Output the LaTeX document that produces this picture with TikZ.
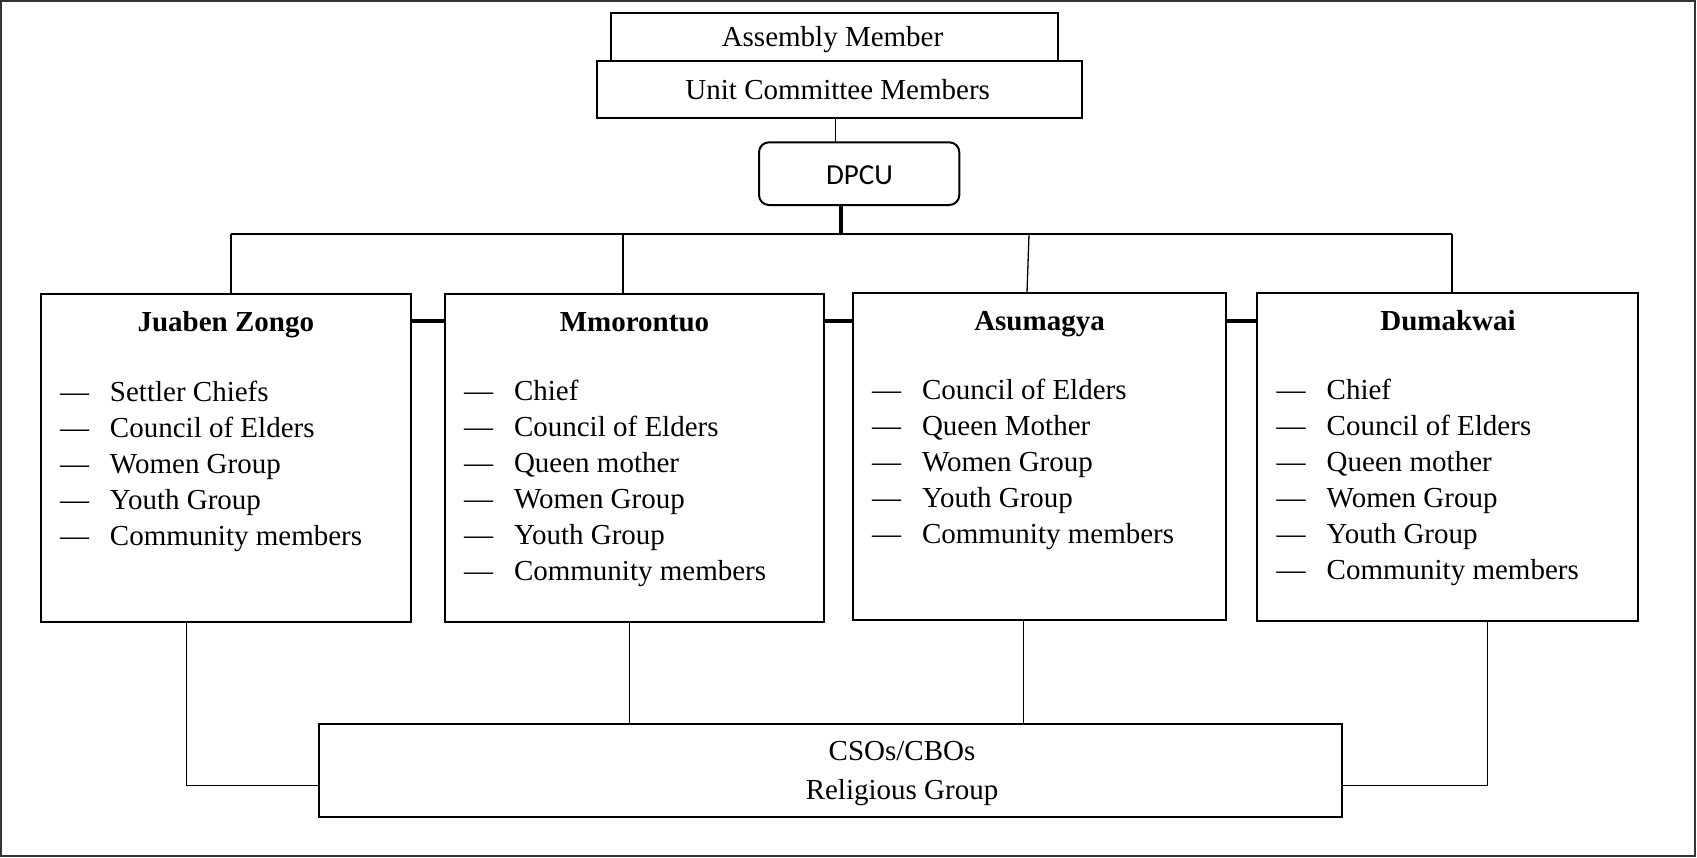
\documentclass[tikz,border=0pt]{standalone}
\usepackage{fontspec}
\setmainfont{Liberation Serif}
\newfontfamily\dpcufont{Carlito}
\usetikzlibrary{calc}
\newcommand\memberline[1]{\makebox[25pt][l]{\textemdash}#1}
\begin{document}
\begin{tikzpicture}[x=0.5pt,y=-0.5pt,
  box/.style={draw, line width=1pt, inner sep=0pt, outer sep=0pt, fill=white},
  link/.style={line width=0.65pt},
  heavylink/.style={line width=2pt},
  label/.style={inner sep=0pt, outer sep=0pt, anchor=base,
    font=\fontsize{14.5}{18}\selectfont},
  title/.style={label, font=\fontsize{14.5}{18}\selectfont\bfseries},
  members/.style={inner sep=0pt, outer sep=0pt, anchor=base west,
    font=\fontsize{14.5}{18}\selectfont}]
\useasboundingbox (0,0) rectangle (1697,857);
\draw[line width=1pt, black!80] (1,1) rectangle (1695,856);

% top of the chart
\node[box, minimum width=223.5pt, minimum height=24.15pt] (assembly) at (834.5,36.85) {};
\node[box, minimum width=242.5pt, minimum height=28.65pt] (unit) at (839.2,89.65) {};
\node[label] (assembly-t) at (832.5,46.5) {Assembly Member};
\node[label] (unit-t) at (837.7,99.3) {Unit Committee Members};
\node[box, rounded corners=5pt, minimum width=100.15pt, minimum height=31.35pt] (dpcu) at (859.15,173.65) {};
\node[label, font=\fontsize{14.5}{18}\dpcufont] (dpcu-t) at (859.5,184.3) {DPCU};

% community boxes
\node[box, minimum width=185.15pt, minimum height=163.85pt] (jz) at (225.85,457.85) {};
\node[box, minimum width=189.5pt, minimum height=163.7pt] (mm) at (634.5,458) {};
\node[box, minimum width=186.5pt, minimum height=163.8pt] (as) at (1039.2,456.5) {};
\node[box, minimum width=190.1pt, minimum height=163.6pt] (dk) at (1447.4,456.9) {};

\node[title] (jz-t) at (225.85,331) {Juaben Zongo};
\node[title] (mm-t) at (634.5,331.5) {Mmorontuo};
\node[title] (as-t) at (1039.5,330.5) {Asumagya};
\node[title] (dk-t) at (1448,330.7) {Dumakwai};

\node[members] (jz-l) at (60,401) {\begin{tabular}[t]{@{}l@{}}
  \memberline{Settler Chiefs}\\
  \memberline{Council of Elders}\\
  \memberline{Women Group}\\
  \memberline{Youth Group}\\
  \memberline{Community members}\end{tabular}};
\node[members] (mm-l) at (464,400) {\begin{tabular}[t]{@{}l@{}}
  \memberline{Chief}\\
  \memberline{Council of Elders}\\
  \memberline{Queen mother}\\
  \memberline{Women Group}\\
  \memberline{Youth Group}\\
  \memberline{Community members}\end{tabular}};
\node[members] (as-l) at (872,399.3) {\begin{tabular}[t]{@{}l@{}}
  \memberline{Council of Elders}\\
  \memberline{Queen Mother}\\
  \memberline{Women Group}\\
  \memberline{Youth Group}\\
  \memberline{Community members}\end{tabular}};
\node[members] (dk-l) at (1276.7,399) {\begin{tabular}[t]{@{}l@{}}
  \memberline{Chief}\\
  \memberline{Council of Elders}\\
  \memberline{Queen mother}\\
  \memberline{Women Group}\\
  \memberline{Youth Group}\\
  \memberline{Community members}\end{tabular}};

% bottom box
\node[box, minimum width=511.5pt, minimum height=46.65pt] (cso) at (830.8,770.65) {};
\node[label] (cso-t) at (902,760.5) {\begin{tabular}[t]{@{}c@{}}CSOs/CBOs\\[1.5pt]Religious Group\end{tabular}};

% connectors from the top
\coordinate (t1) at (835.7,0);
\coordinate (t2) at (840.7,234);
\draw[link] (t1 |- unit.south) -- (t1 |- dpcu.north);
\draw[heavylink] (t2 |- dpcu.south) -- (t2);

\coordinate (busL) at (231,234);
\coordinate (b2) at (623,234);
\coordinate (b3) at (1029,234);
\coordinate (b3foot) at (1027,0);
\coordinate (busR) at (1452,234);
\draw[link] (busL) -- (busR);
\draw[link] (busL) -- (busL |- jz.north);
\draw[link] (b2) -- (b2 |- mm.north);
\draw[link] (b3) -- (b3foot |- as.north);
\draw[link] (busR) -- (busR |- dk.north);

% links between neighbouring boxes
\coordinate (hy) at (0,320.5);
\draw[heavylink] (jz.east |- hy) -- (mm.west |- hy);
\draw[heavylink] (mm.east |- hy) -- (as.west |- hy);
\draw[heavylink] (as.east |- hy) -- (dk.west |- hy);

% connectors down to the bottom box
\coordinate (c1) at (186.7,785.3);
\coordinate (c2) at (629.3,0);
\coordinate (c3) at (1023.3,0);
\coordinate (c4) at (1487.3,785.3);
\draw[link] (c1 |- jz.south) -- (c1) -- (c1 -| cso.west);
\draw[link] (c2 |- mm.south) -- (c2 |- cso.north);
\draw[link] (c3 |- as.south) -- (c3 |- cso.north);
\draw[link] (c4 |- dk.south) -- (c4) -- (c4 -| cso.east);
\end{tikzpicture}
\end{document}
